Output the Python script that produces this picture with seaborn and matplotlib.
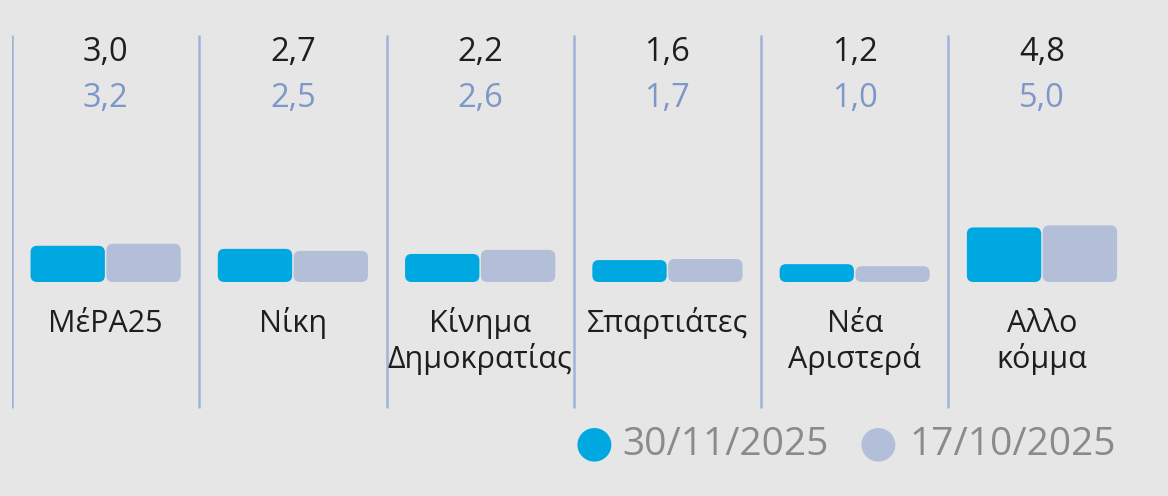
import matplotlib
matplotlib.use("Agg")
import matplotlib.pyplot as plt
from matplotlib.patches import FancyBboxPatch
import seaborn as sns
import pandas as pd

# data
parties = ["ΜέΡΑ25", "Νίκη", "Κίνημα\nΔημοκρατίας", "Σπαρτιάτες", "Νέα\nΑριστερά", "Αλλο\nκόμμα"]
dates = ["30/11/2025", "17/10/2025"]
vals_nov = [3.0, 2.7, 2.2, 1.6, 1.2, 4.8]
vals_oct = [3.2, 2.5, 2.6, 1.7, 1.0, 5.0]

CYAN = "#00a8e2"
GREY = "#b3bfd8"
BLUE_TXT = "#7d97c9"
BG = "#e6e6e6"
LINE = "#9fb3da"
W, H = 1168, 496
SCALE = 10.2    # pixels per percentage point
OFFSET = 0.55   # bars start a little below zero, like the original
BASE = 282 - OFFSET * SCALE   # pixel row of value zero

df = pd.DataFrame({
    "party": parties * 2,
    "date": [dates[0]] * 6 + [dates[1]] * 6,
    "value": vals_nov + vals_oct,
})

sns.set_theme(style="white")
plt.rcParams["font.family"] = ["Open Sans", "DejaVu Sans"]

fig = plt.figure(figsize=(W / 100, H / 100), dpi=100, facecolor=BG)
ax = fig.add_axes([12 / W, 0, (1135.6 - 12) / W, 1])
ax.set_facecolor(BG)

sns.barplot(data=df, x="party", y="value", hue="date", hue_order=dates,
            palette=[CYAN, GREY], width=0.81, ax=ax, legend=False,
            saturation=1, linewidth=0)

ax.set_xlim(-0.5, 5.5)
ax.set_ylim(-(H - BASE) / SCALE, BASE / SCALE)

# rounded bars
ppx = (ax.get_xlim()[1] - ax.get_xlim()[0]) / (1135.6 - 12)
ppy = (ax.get_ylim()[1] - ax.get_ylim()[0]) / H
asp = ppy / ppx
for p in list(ax.patches):
    x, w = p.get_x(), p.get_width()
    y, h = p.get_y() - OFFSET, p.get_height() + OFFSET
    if w == 0:
        continue
    r = 6.5 * ppx
    pad = 0.004
    fb = FancyBboxPatch((x + r + pad, y + r * asp), w - 2 * r - 2 * pad,
                        h - 2 * r * asp,
                        boxstyle=f"round,pad={r},rounding_size={r}",
                        mutation_aspect=asp,
                        facecolor=p.get_facecolor(), edgecolor="none")
    p.remove()
    ax.add_patch(fb)

# separators
ax.vlines([i - 0.5 for i in range(6)], -(408 - BASE) / SCALE, (BASE - 35) / SCALE,
          color=LINE, lw=1.8)

xt = ax.get_xaxis_transform()
for i, name in enumerate(parties):
    ax.text(i, 1 - 61 / H, f"{vals_nov[i]:.1f}".replace(".", ","),
            transform=xt, ha="center", va="baseline",
            fontsize=23.5, color="#1e1e1e")
    ax.text(i, 1 - 107 / H, f"{vals_oct[i]:.1f}".replace(".", ","),
            transform=xt, ha="center", va="baseline",
            fontsize=23.5, color=BLUE_TXT)
    for j, line in enumerate(name.split("\n")):
        ax.text(i, 1 - (332 + 36 * j) / H, line, transform=xt,
                ha="center", va="baseline", fontsize=22, color="#1e1e1e")

ax.axis("off")

# legend
ly = 1 - 443 / H
fig.text(594 / W, ly, "●", color=CYAN, fontsize=32,
         ha="center", va="center", family="DejaVu Sans")
fig.text(622 / W, 1 - 455 / H, dates[0], color="#8a8a8a", fontsize=28,
         ha="left", va="baseline")
fig.text(878 / W, ly, "●", color=GREY, fontsize=32,
         ha="center", va="center", family="DejaVu Sans")
fig.text(909 / W, 1 - 455 / H, dates[1], color="#8a8a8a", fontsize=28,
         ha="left", va="baseline")

fig.savefig("out.png", dpi=100, facecolor=BG)
